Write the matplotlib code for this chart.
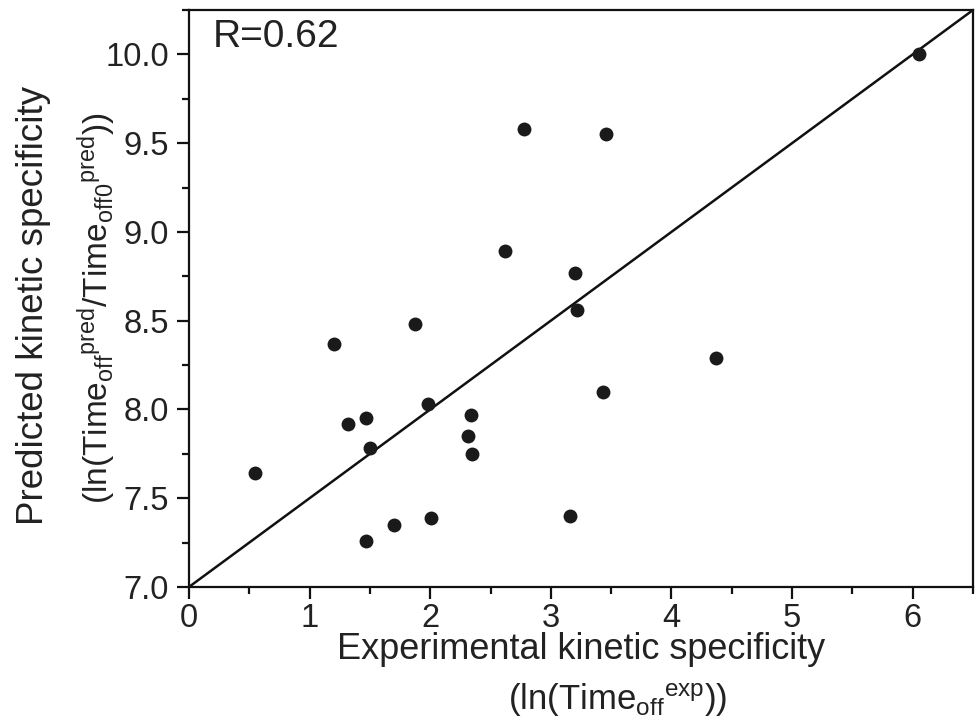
import matplotlib
matplotlib.use('Agg')
import matplotlib.pyplot as plt
from matplotlib.ticker import MultipleLocator, FormatStrFormatter

# values
exp_spec = [6.05, 2.78, 3.46, 2.62, 3.20, 3.22, 1.87, 1.20, 4.37, 3.43, 1.98,
            2.34, 1.47, 1.32, 2.31, 1.50, 2.35, 0.55, 3.16, 2.01, 1.70, 1.47]
pred_spec = [10.00, 9.58, 9.55, 8.89, 8.77, 8.56, 8.48, 8.37, 8.29, 8.10, 8.03,
             7.97, 7.95, 7.92, 7.85, 7.78, 7.75, 7.64, 7.40, 7.39, 7.35, 7.26]
fit_x = [0, 6.5]
fit_y = [7.0, 10.25]
r_text = 'R=0.62'

plt.rcParams['font.family'] = ['Liberation Sans', 'DejaVu Sans']
plt.rcParams['mathtext.default'] = 'regular'

fig = plt.figure(figsize=(9.77, 7.21), dpi=100)
ax = fig.add_axes([0.1934, 0.1859, 0.8025, 0.8002])

ax.plot(fit_x, fit_y, color='#111111', lw=1.8, zorder=2)
ax.plot(exp_spec, pred_spec, 'o', color='#1a1a1a', ms=10, mec='none', zorder=3)

ax.set_xlim(0, 6.5)
ax.set_ylim(7.0, 10.25)
ax.xaxis.set_major_locator(MultipleLocator(1))
ax.xaxis.set_minor_locator(MultipleLocator(0.5))
ax.yaxis.set_major_locator(MultipleLocator(0.5))
ax.yaxis.set_minor_locator(MultipleLocator(0.25))
ax.yaxis.set_major_formatter(FormatStrFormatter('%.1f'))

for s in ax.spines.values():
    s.set_linewidth(1.6)
    s.set_color('#111111')
ax.tick_params(which='major', direction='out', length=8.5, width=1.6,
               labelsize=23.5, pad=6, colors='#111111', labelcolor='#222222')
ax.tick_params(axis='x', which='major', pad=3)
ax.tick_params(which='minor', direction='out', length=5, width=1.6, colors='#111111')
ax.tick_params(top=False, right=False, which='both')

ax.text(0.2, 10.2, r_text, fontsize=28, color='#222222', va='top', ha='left')

# axis titles, two lines each (scripts staggered like the original)
fig.text(0.034, 0.576, 'Predicted kinetic specificity', rotation=90,
         fontsize=26.5, color='#222222', ha='center', va='center')
fig.text(0.099, 0.572,
         r'(ln(Time$_{off}$$^{pred}$/Time$_{off0}$$^{pred}$))', rotation=90,
         fontsize=24, color='#222222', ha='center', va='center')
fig.text(0.595, 0.099, 'Experimental kinetic specificity',
         fontsize=26, color='#222222', ha='center', va='center')
fig.text(0.632, 0.029, r'(ln(Time$_{off}$$^{exp}$))',
         fontsize=25, color='#222222', ha='center', va='center')

fig.savefig('out.png', dpi=100)
